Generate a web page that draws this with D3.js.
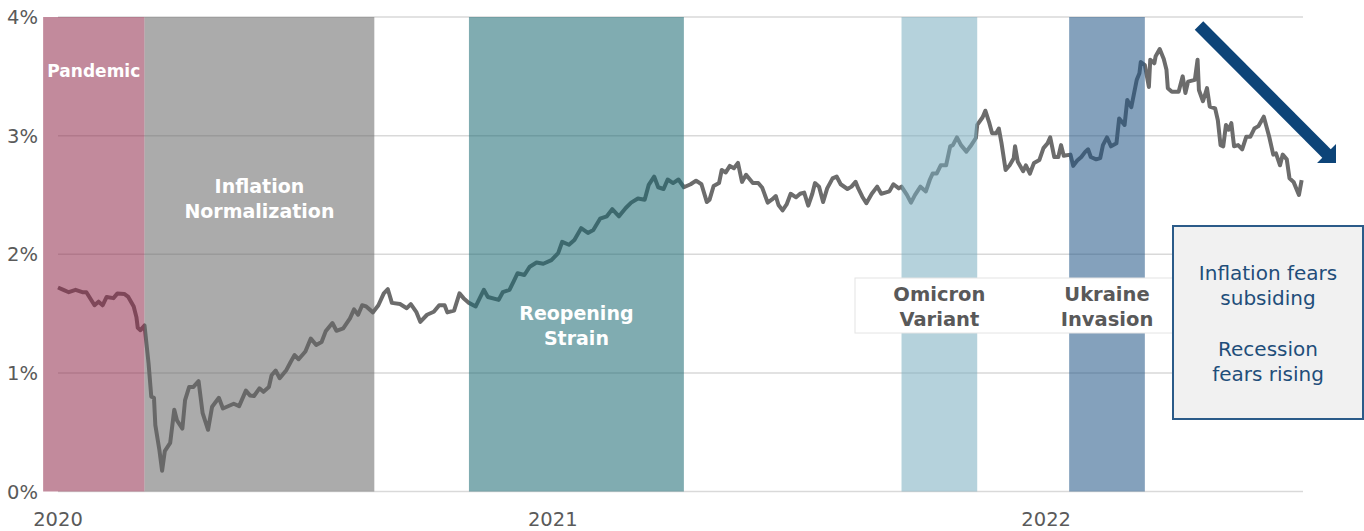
<!DOCTYPE html>
<html><head><meta charset="utf-8">
<script src="https://cdn.jsdelivr.net/npm/d3@7"></script>
<style>body{margin:0;background:#fff} svg{display:block}</style>
</head><body><svg id="c" width="1364" height="531"></svg>
<script>
// ---- data ----
const dates = [
"2020-01-01","2020-01-05","2020-01-09","2020-01-14","2020-01-19","2020-01-22","2020-01-28","2020-01-31","2020-02-03","2020-02-06",
"2020-02-11","2020-02-14","2020-02-19","2020-02-22","2020-02-26","2020-02-28","2020-02-29","2020-03-02","2020-03-05","2020-03-08",
"2020-03-10","2020-03-12","2020-03-13","2020-03-16","2020-03-18","2020-03-20","2020-03-24","2020-03-27","2020-03-29","2020-04-02",
"2020-04-04","2020-04-07","2020-04-10","2020-04-14","2020-04-17","2020-04-21","2020-04-24","2020-04-29","2020-05-02","2020-05-10",
"2020-05-14","2020-05-19","2020-05-22","2020-05-25","2020-05-29","2020-06-01","2020-06-05","2020-06-07","2020-06-10","2020-06-13",
"2020-06-18","2020-06-21","2020-06-24","2020-06-27","2020-07-02","2020-07-06","2020-07-10","2020-07-14","2020-07-17","2020-07-22",
"2020-07-25","2020-07-30","2020-08-04","2020-08-07","2020-08-10","2020-08-13","2020-08-16","2020-08-21","2020-08-25","2020-08-29",
"2020-09-01","2020-09-04","2020-09-10","2020-09-15","2020-09-18","2020-09-22","2020-09-25","2020-09-30","2020-10-05","2020-10-09",
"2020-10-13","2020-10-15","2020-10-20","2020-10-24","2020-10-27","2020-10-31","2020-11-05","2020-11-08","2020-11-11","2020-11-14",
"2020-11-22","2020-11-25","2020-11-30","2020-12-03","2020-12-06","2020-12-11","2020-12-15","2020-12-20","2020-12-25","2020-12-31",
"2021-01-05","2021-01-08","2021-01-13","2021-01-17","2021-01-22","2021-01-27","2021-01-31","2021-02-05","2021-02-10","2021-02-14",
"2021-02-19","2021-02-24","2021-02-28","2021-03-05","2021-03-10","2021-03-13","2021-03-17","2021-03-20","2021-03-24","2021-03-27",
"2021-03-31","2021-04-04","2021-04-08","2021-04-13","2021-04-17","2021-04-21","2021-04-25","2021-04-27","2021-04-30","2021-05-04",
"2021-05-06","2021-05-09","2021-05-12","2021-05-15","2021-05-18","2021-05-21","2021-05-24","2021-05-29","2021-06-02","2021-06-05",
"2021-06-09","2021-06-12","2021-06-15","2021-06-17","2021-06-20","2021-06-23","2021-06-26","2021-06-30","2021-07-03","2021-07-06",
"2021-07-09","2021-07-12","2021-07-14","2021-07-17","2021-07-20","2021-07-23","2021-07-27","2021-07-30","2021-08-02","2021-08-07",
"2021-08-10","2021-08-13","2021-08-15","2021-08-18","2021-08-21","2021-08-25","2021-08-29","2021-09-01","2021-09-04","2021-09-07",
"2021-09-10","2021-09-14","2021-09-16","2021-09-20","2021-09-23","2021-09-26","2021-09-30","2021-10-04","2021-10-07","2021-10-09",
"2021-10-12","2021-10-15","2021-10-19","2021-10-22","2021-10-24","2021-10-27","2021-10-30","2021-11-03","2021-11-06","2021-11-10",
"2021-11-11","2021-11-15","2021-11-17","2021-11-20","2021-11-22","2021-11-25","2021-11-27","2021-11-29","2021-12-02","2021-12-05",
"2021-12-08","2021-12-09","2021-12-11","2021-12-15","2021-12-17","2021-12-20","2021-12-23","2021-12-27","2021-12-30","2022-01-02",
"2022-01-04","2022-01-07","2022-01-10","2022-01-12","2022-01-14","2022-01-19","2022-01-21","2022-01-24","2022-01-27","2022-01-30",
"2022-02-01","2022-02-03","2022-02-07","2022-02-10","2022-02-12","2022-02-15","2022-02-18","2022-02-22","2022-02-24","2022-02-28",
"2022-03-02","2022-03-05","2022-03-09","2022-03-11","2022-03-12","2022-03-15","2022-03-18","2022-03-19","2022-03-22","2022-03-23",
"2022-03-26","2022-03-29","2022-03-31","2022-04-01","2022-04-04","2022-04-09","2022-04-12","2022-04-14","2022-04-16","2022-04-21",
"2022-04-23","2022-04-24","2022-04-27","2022-04-30","2022-05-02","2022-05-06","2022-05-08","2022-05-10","2022-05-12","2022-05-14",
"2022-05-16","2022-05-18","2022-05-20","2022-05-23","2022-05-26","2022-05-29","2022-06-01","2022-06-04","2022-06-07","2022-06-11",
"2022-06-13","2022-06-15","2022-06-18","2022-06-20","2022-06-23","2022-06-25","2022-06-28","2022-06-30","2022-07-03","2022-07-07",
"2022-07-09"];
const yields = [
1.72,1.70,1.68,1.70,1.68,1.68,1.57,1.60,1.57,1.64,
1.63,1.67,1.665,1.64,1.56,1.47,1.38,1.36,1.40,1.08,
0.80,0.79,0.56,0.35,0.175,0.34,0.41,0.69,0.60,0.53,
0.77,0.88,0.88,0.93,0.66,0.52,0.715,0.79,0.70,0.74,
0.72,0.85,0.81,0.805,0.87,0.84,0.88,0.98,1.02,0.955,
1.025,1.09,1.15,1.115,1.18,1.29,1.235,1.26,1.35,1.42,
1.355,1.375,1.46,1.535,1.49,1.57,1.56,1.51,1.57,1.67,
1.705,1.59,1.58,1.545,1.58,1.515,1.43,1.49,1.515,1.57,
1.57,1.51,1.525,1.67,1.63,1.59,1.56,1.63,1.70,1.64,
1.615,1.68,1.70,1.77,1.84,1.825,1.895,1.93,1.92,1.95,
2.01,2.105,2.08,2.12,2.22,2.18,2.205,2.30,2.32,2.38,
2.32,2.39,2.435,2.47,2.46,2.585,2.655,2.565,2.55,2.63,
2.60,2.63,2.565,2.59,2.62,2.59,2.44,2.46,2.575,2.60,
2.71,2.69,2.745,2.725,2.77,2.61,2.67,2.60,2.60,2.56,
2.435,2.46,2.49,2.415,2.37,2.42,2.51,2.48,2.51,2.52,
2.41,2.51,2.60,2.57,2.44,2.555,2.64,2.655,2.59,2.55,
2.57,2.61,2.555,2.485,2.43,2.51,2.57,2.51,2.52,2.53,
2.59,2.555,2.57,2.50,2.435,2.50,2.57,2.53,2.63,2.68,
2.68,2.75,2.75,2.91,2.92,2.985,2.92,2.865,2.91,2.98,
3.09,3.155,3.21,3.105,3.02,3.02,3.06,2.935,2.71,2.75,
2.81,2.91,2.78,2.70,2.75,2.68,2.77,2.795,2.895,2.935,
2.985,2.82,2.82,2.92,2.83,2.84,2.745,2.79,2.82,2.865,
2.885,2.82,2.80,2.81,2.92,2.985,2.91,2.935,3.145,3.09,
3.30,3.24,3.47,3.525,3.62,3.595,3.41,3.64,3.61,3.67,
3.73,3.645,3.555,3.40,3.37,3.37,3.50,3.36,3.455,3.47,
3.64,3.385,3.29,3.40,3.245,3.23,3.13,2.92,2.91,3.09,
3.05,3.105,2.91,2.92,2.885,2.99,2.99,3.06,3.08,3.16,
3.075,2.99,2.84,2.85,2.75,2.84,2.80,2.64,2.61,2.50,
2.625];
const yTicks = [0, 1, 2, 3, 4];
const yTickLabels = ["0%", "1%", "2%", "3%", "4%"];
const xTickDates = ["2020-01-01", "2021-01-01", "2022-01-01"];
const xTickLabels = ["2020", "2021", "2022"];
const periodNames = [["Pandemic"], ["Inflation", "Normalization"], ["Reopening", "Strain"], ["Omicron", "Variant"], ["Ukraine", "Invasion"]];
const periodStart = ["2019-12-21", "2020-03-05", "2020-10-31", "2021-09-16", "2022-01-18"];
const periodEnd   = ["2020-03-05", "2020-08-22", "2021-04-08", "2021-11-11", "2022-03-15"];
const noteLines = ["Inflation fears", "subsiding", "Recession", "fears rising"];
const xDomain = ["2020-01-01", "2022-07-10"];

// ---- styles ----
const periodFill = ["rgb(144,42,75)", "rgb(102,102,102)", "rgb(24,104,113)", "rgb(120,173,191)", "rgb(31,84,133)"];
const periodAlpha = 0.55;
const periodTextColor = ["#fff", "#fff", "#fff", "#595959", "#595959"];
const periodTextSize = [17, 19, 19, 19.5, 19.5];
const periodTextY = [3.545, 2.47, 1.40, 1.56, 1.56]; // label centre (value units)
const FONT = "DejaVu Sans, sans-serif";

const parse = d3.utcParse("%Y-%m-%d");
const W = 1364, H = 531;
const m = {left: 58, right: 61, top: 17, bottom: 39.5};
const svg = d3.select("#c");

const x = d3.scaleUtc().domain(xDomain.map(parse)).range([m.left, W - m.right]);
const y = d3.scaleLinear().domain([0, 4]).range([H - m.bottom, m.top]);

// gridlines
svg.append("g").selectAll("line").data(yTicks).join("line")
  .attr("x1", m.left).attr("x2", W - m.right)
  .attr("y1", d => y(d)).attr("y2", d => y(d))
  .attr("stroke", "#d9d9d9").attr("stroke-width", 1.5);

// y labels
svg.append("g").selectAll("text").data(yTicks).join("text")
  .attr("x", 38).attr("y", d => y(d)).attr("dy", "0.36em")
  .attr("text-anchor", "end").attr("font-family", FONT).attr("font-size", 19.5)
  .attr("fill", "#5a5a5a").text((d, i) => yTickLabels[i]);

// x labels
svg.append("g").selectAll("text").data(xTickDates).join("text")
  .attr("x", d => x(parse(d))).attr("y", 526)
  .attr("text-anchor", "middle").attr("font-family", FONT).attr("font-size", 19.5)
  .attr("fill", "#5a5a5a").text((d, i) => xTickLabels[i]);

// line
const series = dates.map((d, i) => ({date: parse(d), v: yields[i]}));
svg.append("path").datum(series)
  .attr("fill", "none").attr("stroke", "#6c6c6c").attr("stroke-width", 4)
  .attr("stroke-linejoin", "round")
  .attr("d", d3.line().x(d => x(d.date)).y(d => y(d.v)));

// period bands (translucent, drawn over line)
svg.append("g").selectAll("rect").data(periodStart).join("rect")
  .attr("x", (d, i) => x(parse(d)))
  .attr("width", (d, i) => x(parse(periodEnd[i])) - x(parse(d)))
  .attr("y", y(4)).attr("height", y(0) - y(4))
  .attr("fill", (d, i) => periodFill[i]).attr("fill-opacity", periodAlpha);

// white label box behind Omicron / Ukraine labels
svg.append("rect").attr("x", 855).attr("y", 278).attr("width", 318).attr("height", 55)
  .attr("fill", "#fff").attr("stroke", "#e4e4e4").attr("stroke-width", 1);

// period labels
periodNames.forEach((lines, i) => {
  const cx = (x(parse(periodStart[i])) + x(parse(periodEnd[i]))) / 2;
  const cy = y(periodTextY[i]);
  const lh = 25;
  const t = svg.append("text").attr("text-anchor", "middle")
    .attr("font-family", FONT).attr("font-weight", "bold")
    .attr("font-size", periodTextSize[i]).attr("fill", periodTextColor[i]);
  lines.forEach((ln, j) => {
    t.append("tspan").attr("x", cx)
      .attr("y", cy + (j - (lines.length - 1) / 2) * lh)
      .attr("dy", "0.36em").text(ln);
  });
});

// note box
svg.append("rect").attr("x", 1173).attr("y", 226).attr("width", 190).attr("height", 193)
  .attr("fill", "#f1f1f1").attr("stroke", "#2b5b89").attr("stroke-width", 2);
const noteY = [279.5, 304.5, 355.5, 380.5];
svg.append("g").selectAll("text").data(noteLines).join("text")
  .attr("x", 1268).attr("y", (d, i) => noteY[i]).attr("text-anchor", "middle")
  .attr("font-family", FONT).attr("font-size", 20).attr("fill", "#1f4e7a").text(d => d);

// arrow (annotation)
const ax0 = 1199, ay0 = 25.5, tipX = 1336, tipY = 163, head = 13.4;
const ux = Math.SQRT1_2, uy = Math.SQRT1_2;
const bx = tipX - head * ux, by = tipY - head * uy;
svg.append("line").attr("x1", ax0).attr("y1", ay0).attr("x2", bx + 1).attr("y2", by + 1)
  .attr("stroke", "#0d4478").attr("stroke-width", 12);
svg.append("polygon")
  .attr("points", [[tipX, tipY], [bx - head * uy, by + head * ux], [bx + head * uy, by - head * ux]].map(p => p.join(",")).join(" "))
  .attr("fill", "#0d4478");
</script></body></html>
